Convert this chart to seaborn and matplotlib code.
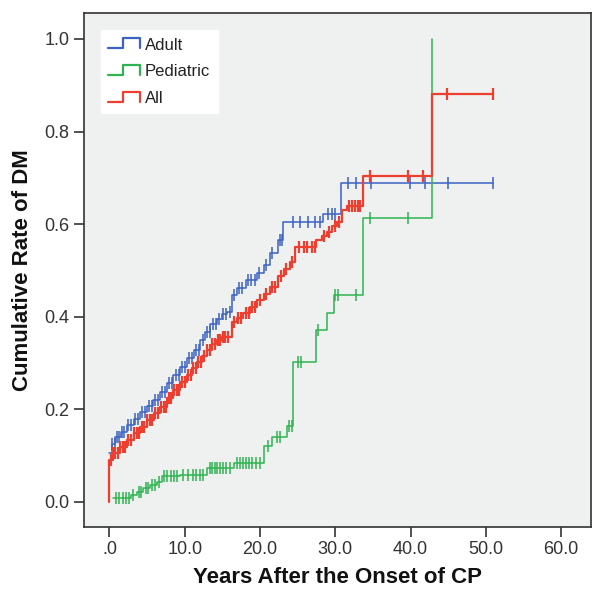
import numpy as np
import matplotlib
matplotlib.use("Agg")
import matplotlib.pyplot as plt
import seaborn as sns
from matplotlib.lines import Line2D
from matplotlib.legend_handler import HandlerBase

# ------ Data ------
# step points: time (years) and cumulative rate after that time
adult_t = [0.0, 0.3, 0.8, 1.5, 2.3, 3.2, 4.1, 5.0, 5.8, 6.7, 7.6, 8.5, 9.4, 10.3,
           11.2, 12.0, 12.7, 13.4, 14.3, 15.0, 15.6, 16.3, 16.9, 18.2, 19.6, 20.5,
           21.3, 22.4, 23.1, 28.4, 30.8, 50.9]
adult_v = [0.105, 0.125, 0.14, 0.152, 0.166, 0.18, 0.195, 0.208, 0.22, 0.238, 0.256,
           0.274, 0.292, 0.31, 0.328, 0.35, 0.366, 0.385, 0.395, 0.405, 0.41, 0.447,
           0.462, 0.48, 0.494, 0.512, 0.537, 0.566, 0.605, 0.623, 0.689, 0.689]
adult_cens = [0.4, 0.7, 1.0, 1.3, 1.7, 2.0, 2.5, 2.9, 3.4, 3.8, 4.3, 4.7, 5.2, 5.6,
              6.1, 6.5, 7.0, 7.4, 7.9, 8.3, 8.8, 9.2, 9.7, 10.1, 10.6, 11.0, 11.5,
              11.9, 12.4, 12.9, 13.3, 13.8, 14.2, 14.6, 15.1, 15.5, 16.0, 16.6, 17.2,
              17.6, 18.4, 18.8, 19.3, 19.9, 20.8, 21.6, 22.6, 22.9, 24.4, 25.3, 26.4,
              27.3, 28.0, 29.1, 29.5, 30.0, 31.7, 32.8, 34.8, 39.9, 41.9, 45.0, 50.9]

pediatric_t = [0.5, 2.8, 3.6, 4.5, 5.4, 6.3, 7.0, 9.4, 12.9, 16.5, 20.5, 21.6, 23.6,
               24.4, 27.5, 28.9, 29.8, 33.7, 42.8]
pediatric_v = [0.008, 0.015, 0.022, 0.03, 0.037, 0.044, 0.055, 0.058, 0.073, 0.084,
               0.12, 0.141, 0.163, 0.303, 0.371, 0.408, 0.446, 0.613, 1.0]
pediatric_cens = [0.9, 1.3, 1.8, 2.2, 2.6, 3.1, 3.9, 4.2, 4.8, 5.1, 5.7, 6.0, 6.6, 7.3,
                  7.7, 8.2, 8.6, 9.0, 9.8, 10.4, 11.1, 11.5, 12.0, 12.4, 13.3, 13.6,
                  14.0, 14.3, 14.7, 15.1, 15.5, 16.0, 16.9, 17.3, 17.8, 18.2, 18.6,
                  19.0, 19.5, 20.0, 21.0, 22.2, 22.6, 23.8, 24.2, 25.1, 25.4, 27.7,
                  30.0, 30.4, 32.8, 34.6, 39.7]

all_t = [0.0, 0.0, 0.5, 1.4, 2.3, 3.2, 4.1, 5.0, 5.9, 6.7, 7.6, 8.5, 9.4, 10.3, 11.0,
         11.6, 12.3, 12.9, 13.6, 14.3, 15.0, 16.3, 17.0, 17.8, 18.7, 19.6, 20.5, 21.3,
         22.4, 23.2, 24.0, 24.7, 27.5, 28.2, 28.9, 29.6, 30.2, 30.9, 31.5, 33.7, 42.8,
         50.9]
all_v = [0.0, 0.09, 0.105, 0.119, 0.134, 0.148, 0.162, 0.177, 0.192, 0.206, 0.224,
         0.242, 0.258, 0.274, 0.29, 0.303, 0.316, 0.328, 0.34, 0.35, 0.356, 0.389,
         0.398, 0.408, 0.422, 0.436, 0.45, 0.465, 0.487, 0.503, 0.519, 0.551, 0.566,
         0.575, 0.584, 0.596, 0.605, 0.63, 0.64, 0.705, 0.881, 0.881]
all_cens = [0.2, 0.5, 0.8, 1.1, 1.4, 1.8, 2.1, 2.5, 2.8, 3.2, 3.6, 3.9, 4.3, 4.6, 5.0,
            5.4, 5.7, 6.1, 6.4, 6.8, 7.2, 7.5, 7.9, 8.2, 8.6, 9.0, 9.3, 9.7, 10.0,
            10.4, 10.8, 11.1, 11.5, 11.8, 12.2, 12.6, 12.9, 13.3, 13.6, 14.0, 14.4,
            14.7, 15.1, 15.4, 15.8, 16.6, 17.1, 17.5, 18.1, 18.5, 19.0, 19.4, 20.0,
            20.8, 21.6, 22.0, 22.8, 23.5, 24.3, 25.2, 25.8, 26.3, 26.9, 27.3, 28.5,
            29.2, 29.9, 30.5, 31.8, 32.2, 32.6, 33.0, 33.3, 34.6, 39.7, 41.7, 44.8,
            50.9]

group_names = ["Adult", "Pediatric", "All"]
group_colors = ["#3c62c2", "#2fb34f", "#ee3e30"]

x_ticks = [0, 10, 20, 30, 40, 50, 60]
x_tick_labels = [".0", "10.0", "20.0", "30.0", "40.0", "50.0", "60.0"]
y_ticks = [0.0, 0.2, 0.4, 0.6, 0.8, 1.0]
y_tick_labels = ["0.0", "0.2", "0.4", "0.6", "0.8", "1.0"]


class StepHandler(HandlerBase):
    """Legend key drawn as a little step, like the SPSS survival plot."""
    def create_artists(self, legend, orig_handle, xdescent, ydescent,
                       width, height, fontsize, trans):
        x0, y0 = -xdescent, -ydescent
        lo, hi = y0 + 0.1 * height, y0 + 0.95 * height
        xs = [x0, x0 + 0.45 * width, x0 + 0.45 * width, x0 + width, x0 + width]
        ys = [lo, lo, hi, hi, lo]
        line = Line2D(xs, ys, color=orig_handle.get_color(),
                      lw=1.6, transform=trans)
        return [line]


def censor_values(t, v, cens):
    # value of the step curve at each censoring time
    idx = np.searchsorted(np.asarray(t), np.asarray(cens), side="right") - 1
    idx = np.clip(idx, 0, len(v) - 1)
    return np.asarray(v)[idx]


sns.set_theme(style="ticks")
plt.rcParams["font.family"] = ["Liberation Sans", "DejaVu Sans"]

fig = plt.figure(figsize=(5.93, 5.94), dpi=100)
ax = fig.add_axes([0.141, 0.113, 0.856, 0.865])
ax.set_facecolor("#eff0f0")

series = [
    (adult_t, adult_v, adult_cens, 1.1),
    (pediatric_t, pediatric_v, pediatric_cens, 1.1),
    (all_t, all_v, all_cens, 1.6),
]

handles = []
for (t, v, cens, lw), name, col in zip(series, group_names, group_colors):
    sns.lineplot(x=t, y=v, estimator=None, sort=False, drawstyle="steps-post",
                 color=col, lw=lw, ax=ax)
    ax.plot(cens, censor_values(t, v, cens), ls="none", marker="|",
            ms=8, mew=lw, color=col)
    handles.append(Line2D([], [], color=col, lw=lw, label=name))

ax.set_xlim(-3.43, 64.0)
ax.set_ylim(-0.054, 1.056)
ax.set_xticks(x_ticks)
ax.set_xticklabels(x_tick_labels)
ax.set_yticks(y_ticks)
ax.set_yticklabels(y_tick_labels)
ax.tick_params(axis="both", direction="out", length=7, width=1.2,
               color="#333333", labelsize=13, labelcolor="#333333", pad=3)

for side in ["left", "right", "top", "bottom"]:
    ax.spines[side].set_visible(True)
    ax.spines[side].set_color("#333333")
    ax.spines[side].set_linewidth(1.2)

ax.set_xlabel("Years After the Onset of CP", fontsize=16, fontweight="bold",
              color="#111111", labelpad=7)
ax.set_ylabel("Cumulative Rate of DM", fontsize=16, fontweight="bold",
              color="#111111", labelpad=8)

leg = ax.legend(handles=handles, handler_map={Line2D: StepHandler()},
                loc="upper left", bbox_to_anchor=(0.034, 0.967),
                borderaxespad=0, frameon=True, fancybox=False, framealpha=1,
                facecolor="white", edgecolor="white", fontsize=12,
                handlelength=1.9, handletextpad=0.3, labelspacing=0.7,
                borderpad=0.45)
for txt in leg.get_texts():
    txt.set_color("#222222")

fig.savefig("out.png", dpi=100)
